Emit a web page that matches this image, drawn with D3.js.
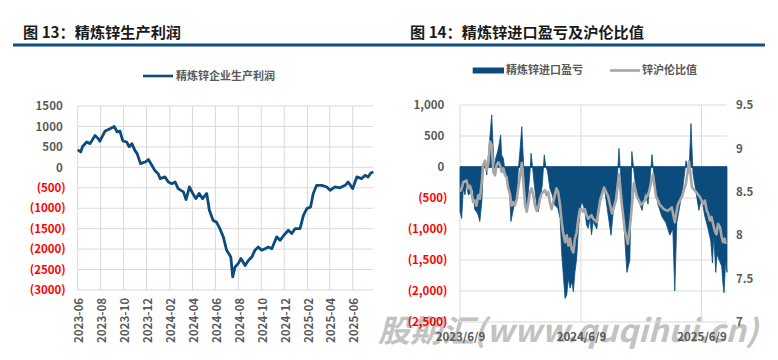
<!DOCTYPE html>
<html><head><meta charset="utf-8">
<script src="https://cdn.jsdelivr.net/npm/d3@7"></script>
<style>body{margin:0;background:#fff}svg{display:block}</style>
</head><body>
<svg id="c" width="778" height="360"></svg>
<script>
// ---------- Figure 13: refined zinc production profit ----------
const profitStart = "2023-06-01";
const profitDays = [0,8,13,24,33,46,55,59,73,86,97,105,112,120,130,137,144,152,158,167,179,188,197,205,214,219,232,241,250,259,267,281,288,297,306,314,323,332,343,350,360,369,378,387,396,407,412,418,427,434,445,454,463,471,480,489,498,507,516,529,538,548,560,569,578,591,600,609,619,626,635,649,662,671,684,697,711,719,731,742,755,764,772,779,786];
const profitValues = [430,375,510,620,580,780,700,640,890,945,1000,865,890,645,620,500,580,415,335,90,130,190,50,-75,-155,-275,-235,-360,-400,-360,-520,-600,-790,-480,-640,-765,-640,-765,-640,-1050,-1300,-1340,-1500,-1700,-2030,-2190,-2680,-2440,-2350,-2230,-2400,-2270,-2190,-2030,-1950,-2030,-1990,-1950,-1990,-1700,-1785,-1660,-1540,-1620,-1500,-1500,-1175,-1010,-970,-645,-440,-440,-480,-560,-480,-500,-440,-360,-520,-235,-275,-195,-235,-140,-115];
const profitXTicks = ["2023-06","2023-08","2023-10","2023-12","2024-02","2024-04","2024-06","2024-08","2024-10","2024-12","2025-02","2025-04","2025-06"];
const profitYTicks = [1500,1000,500,0,-500,-1000,-1500,-2000,-2500,-3000];

// ---------- Figure 14: import profit/loss and SHFE/LME ratio ----------
const importStart = "2023-06-09";
const importDays = [0,5,10,15,20,25,30,35,40,45,50,55,60,66,70,76,81,86,91,96,99,104,108,114,118,123,126,131,136,141,146,151,154,158,164,172,176,182,187,191,197,202,207,212,215,219,225,232,237,242,249,255,259,265,272,279,287,296,303,308,312,318,323,328,333,338,343,348,353,358,363,368,373,378,383,388,393,398,403,414,424,436,445,457,466,475,481,487,496,505,514,520,529,538,551,560,569,581,590,599,611,623,635,644,650,656,666,675,684,693,699,705,714,723,731,741,751,759,764,768,774,778,784,792,796,799,804,808];
const importProfit = [-720,-830,-345,-450,-265,-450,-430,-290,-400,-695,-720,-775,-880,-560,-75,60,-130,195,515,840,460,-20,140,250,355,515,195,140,-50,-130,-290,-505,-880,-775,-615,-450,-75,300,650,195,-400,-615,-400,-75,220,30,-290,-615,-720,-560,-290,195,30,-75,-345,-450,-615,-665,-830,-1420,-1690,-2120,-2065,-1795,-1955,-1850,-2010,-1690,-1475,-1045,-720,-560,-615,-720,-935,-990,-830,-1095,-880,-1000,-500,-300,-650,-1100,-600,-300,300,-200,-900,-1700,-1500,250,-200,-500,-700,-400,-600,200,-300,-600,-800,-900,-1100,-1000,-2000,-900,-600,-300,100,-100,700,-100,-400,-700,-500,-800,-1000,-1200,-1550,-1100,-1700,-1400,-1500,-1600,-1900,-2030,-1500,-1700];
const ratioDays = [0,5,10,20,25,30,35,40,45,50,55,60,66,70,76,81,86,91,96,101,106,111,116,121,126,131,136,141,146,151,156,161,166,172,176,182,187,191,197,202,207,212,217,222,227,232,237,242,247,252,257,262,267,272,277,282,287,292,297,303,308,312,318,323,328,333,338,343,348,353,358,363,368,373,378,383,388,398,403,414,424,436,448,460,472,481,490,499,508,517,526,535,548,560,572,584,593,605,617,629,641,650,659,672,684,693,702,714,726,736,741,747,751,756,761,766,771,776,781,787,792,796,801,804];
const lmeRatio = [8.50,8.54,8.61,8.63,8.54,8.57,8.48,8.38,8.40,8.34,8.46,8.42,8.61,8.81,8.86,8.75,8.83,9.08,9.04,8.73,8.69,8.81,8.84,8.81,8.73,8.77,8.69,8.67,8.54,8.48,8.34,8.38,8.34,8.42,8.54,8.69,8.83,8.65,8.34,8.27,8.38,8.50,8.54,8.46,8.34,8.28,8.32,8.42,8.48,8.50,8.52,8.46,8.50,8.38,8.30,8.38,8.46,8.54,8.50,8.34,8.15,8.03,7.92,8.00,7.88,7.96,7.84,7.80,7.96,8.03,8.19,8.30,8.30,8.27,8.30,8.23,8.19,8.23,8.19,8.15,8.40,8.55,8.45,8.25,8.40,8.70,8.35,8.05,7.90,8.20,8.60,8.45,8.35,8.40,8.50,8.70,8.45,8.35,8.30,8.28,8.32,8.15,8.35,8.45,8.60,8.85,8.55,8.50,8.44,8.36,8.40,8.28,8.25,8.17,8.21,8.13,8.05,8.01,8.13,8.09,7.98,7.92,7.96,7.90];
const importXTicks = ["2023-06-09","2024-06-09","2025-06-09"];
const importYTicks = [1000,500,0,-500,-1000,-1500,-2000,-2500];
const ratioTicks = [9.5,9,8.5,8,7.5,7];

const titles = ["图 13：精炼锌生产利润","图 14：精炼锌进口盈亏及沪伦比值"];
const legendLeft = "精炼锌企业生产利润";
const legendRight = ["精炼锌进口盈亏","锌沪伦比值"];
const watermark = "股期汇(www.quqihui.cn)";

const BLUE = "#0c4c7c", GRAY = "#a6a6a6", GRID = "#d9d9d9", LBL = "#595959", RED = "#ff0000";
const FONT = "'Noto Sans CJK SC','Noto Sans',sans-serif";
const parse = d3.utcParse("%Y-%m-%d");
const svg = d3.select("#c").style("font-family", FONT);

// watermark (beneath)
svg.append("text").attr("x",378).attr("y",342).text(watermark)
  .attr("font-size",31).attr("font-weight","bold").attr("font-style","italic")
  .attr("fill","#c2c2c2").attr("textLength",380).attr("lengthAdjust","spacingAndGlyphs");

// titles
svg.append("rect").attr("x",13).attr("y",43.5).attr("width",752).attr("height",3).attr("fill","#0f4f82");
svg.append("text").attr("x",23).attr("y",38).text(titles[0]).attr("font-size",15.2).attr("font-weight","bold").attr("fill","#1a1a1a");
svg.append("text").attr("x",410).attr("y",38).text(titles[1]).attr("font-size",15.2).attr("font-weight","bold").attr("fill","#1a1a1a");

// ===== Left chart =====
const p0 = parse(profitStart);
const lx = d3.scaleUtc().domain([p0, d3.utcDay.offset(p0, 786)]).range([77.7, 373.4]);
const ly = d3.scaleLinear().domain([-3000,1500]).range([290,106]);
const lTickDates = profitXTicks.map(s => parse(s + "-01"));
const L = svg.append("g");
L.append("g").selectAll("line").data(profitYTicks).join("line")
  .attr("x1",77.7).attr("x2",373.4).attr("y1",d=>ly(d)).attr("y2",d=>ly(d)).attr("stroke",GRID);
L.append("g").selectAll("line").data(lTickDates).join("line")
  .attr("x1",d=>lx(d)).attr("x2",d=>lx(d)).attr("y1",106).attr("y2",290).attr("stroke",GRID);

const lyAxis = L.append("g").attr("transform","translate(77.7,0)")
  .call(d3.axisLeft(ly).tickValues(profitYTicks).tickSize(0).tickPadding(12)
    .tickFormat(d => d < 0 ? `(${-d})` : `${d}`));
lyAxis.select(".domain").remove();
lyAxis.selectAll("text").attr("font-size",11.5).attr("font-weight","bold").attr("font-family",FONT)
  .attr("fill", d => d < 0 ? RED : LBL).attr("x", d => d < 0 ? -12 : -15);

const lxAxis = L.append("g").attr("transform","translate(0,290)")
  .call(d3.axisBottom(lx).tickValues(lTickDates).tickSize(0).tickFormat(d3.utcFormat("%Y-%m")));
lxAxis.select(".domain").remove();
lxAxis.selectAll("text").attr("font-size",11.5).attr("font-weight","bold").attr("font-family",FONT).attr("fill",LBL)
  .attr("y",1).attr("x",-8).attr("dy","0.35em").attr("transform","rotate(-90)").style("text-anchor","end");

const lData = profitDays.map((d,i) => ({date: d3.utcDay.offset(p0,d), v: profitValues[i]}));
L.append("path").datum(lData).attr("fill","none").attr("stroke",BLUE).attr("stroke-width",2.8)
  .attr("stroke-linejoin","round")
  .attr("d", d3.line().x(d=>lx(d.date)).y(d=>ly(d.v)));

// left legend
L.append("line").attr("x1",143).attr("x2",173).attr("y1",76).attr("y2",76).attr("stroke",BLUE).attr("stroke-width",2.6);
L.append("text").attr("x",176).attr("y",76).attr("dy","0.35em").text(legendLeft)
  .attr("font-size",11).attr("font-weight","bold").attr("fill",LBL);

// ===== Right chart =====
const r0 = parse(importStart);
const rx = d3.scaleUtc().domain([r0, d3.utcDay.offset(r0, 808)]).range([460, 727]);
const ry = d3.scaleLinear().domain([-2500,1000]).range([322,105]);
const ry2 = d3.scaleLinear().domain([7,9.5]).range([322,105]);
const rTickDates = importXTicks.map(parse);
const R = svg.append("g");
R.append("g").selectAll("line").data(importYTicks).join("line")
  .attr("x1",460).attr("x2",727).attr("y1",d=>ry(d)).attr("y2",d=>ry(d)).attr("stroke",GRID);
R.append("g").selectAll("line").data(rTickDates).join("line")
  .attr("x1",d=>rx(d)).attr("x2",d=>rx(d)).attr("y1",105).attr("y2",322).attr("stroke",GRID);

const fmt = d3.format(",");
const ryAxis = R.append("g").attr("transform","translate(460,0)")
  .call(d3.axisLeft(ry).tickValues(importYTicks).tickSize(0).tickPadding(12.7)
    .tickFormat(d => d < 0 ? `(${fmt(-d)})` : fmt(d)));
ryAxis.select(".domain").remove();
ryAxis.selectAll("text").attr("font-size",11.5).attr("font-weight","bold").attr("font-family",FONT)
  .attr("fill", d => d < 0 ? RED : LBL).attr("x", d => d < 0 ? -12.7 : -15.7);

const ry2Axis = R.append("g").attr("transform","translate(727,0)")
  .call(d3.axisRight(ry2).tickValues(ratioTicks).tickSize(0).tickPadding(9).tickFormat(d => `${d}`));
ry2Axis.select(".domain").remove();
ry2Axis.selectAll("text").attr("font-size",11.5).attr("font-weight","bold").attr("font-family",FONT).attr("fill",LBL);

const rxAxis = R.append("g").attr("transform","translate(0,322)")
  .call(d3.axisBottom(rx).tickValues(rTickDates).tickSize(0).tickPadding(11)
    .tickFormat(d => `${d.getUTCFullYear()}/${d.getUTCMonth()+1}/${d.getUTCDate()}`));
rxAxis.select(".domain").remove();
rxAxis.selectAll("text").attr("font-size",11.5).attr("font-weight","bold").attr("font-family",FONT).attr("fill",LBL);

const aData = importDays.map((d,i) => ({date: d3.utcDay.offset(r0,d), v: importProfit[i]}));
R.append("path").datum(aData).attr("fill",BLUE).attr("stroke",BLUE).attr("stroke-width",0.8)
  .attr("d", d3.area().x(d=>rx(d.date)).y0(ry(0)).y1(d=>ry(d.v)));
R.append("line").attr("x1",460).attr("x2",727).attr("y1",ry(0)).attr("y2",ry(0)).attr("stroke",BLUE).attr("stroke-width",1.5);

const gData = ratioDays.map((d,i) => ({date: d3.utcDay.offset(r0,d), v: lmeRatio[i]}));
R.append("path").datum(gData).attr("fill","none").attr("stroke",GRAY).attr("stroke-width",2.6)
  .attr("stroke-linejoin","round")
  .attr("d", d3.line().x(d=>rx(d.date)).y(d=>ry2(d.v)));

// right legend
R.append("rect").attr("x",472.7).attr("y",67.5).attr("width",31.3).attr("height",6).attr("fill",BLUE);
R.append("text").attr("x",506).attr("y",70.5).attr("dy","0.35em").text(legendRight[0])
  .attr("font-size",11).attr("font-weight","bold").attr("fill",LBL);
R.append("line").attr("x1",610).attr("x2",640).attr("y1",70.5).attr("y2",70.5).attr("stroke",GRAY).attr("stroke-width",2.6);
R.append("text").attr("x",642).attr("y",70.5).attr("dy","0.35em").text(legendRight[1])
  .attr("font-size",11).attr("font-weight","bold").attr("fill",LBL);
</script>
</body></html>
